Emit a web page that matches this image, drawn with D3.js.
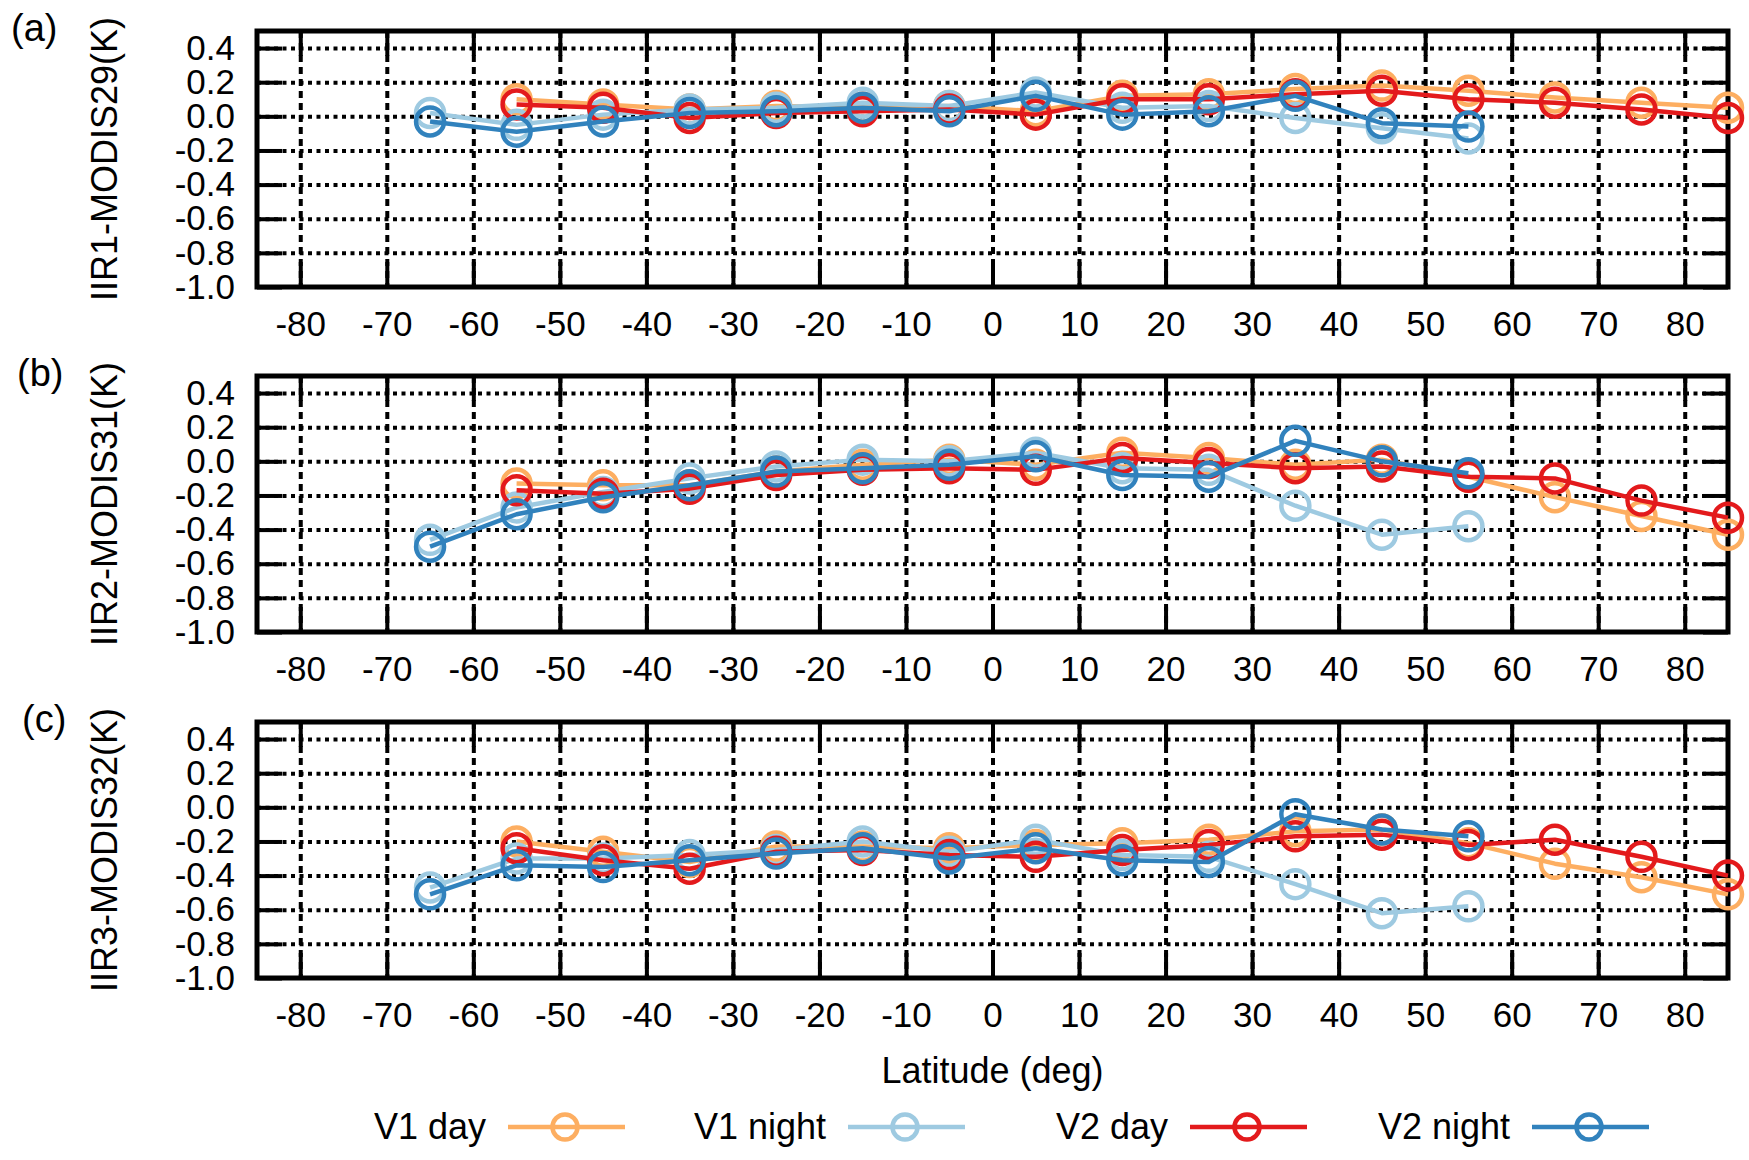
<!DOCTYPE html>
<html>
<head>
<meta charset="utf-8">
<title>IIR - MODIS differences vs latitude</title>
<script src="https://d3js.org/d3.v7.min.js"></script>
<style>
    body { margin: 0; background: #fff; }
    text { font-family: "Liberation Sans", Arial, sans-serif; fill: #000; }
    .grid-h line { stroke: #000; stroke-width: 1.6; stroke-dasharray: 4,4.5; }
    .grid-v line { stroke: #000; stroke-width: 1.6; stroke-dasharray: 7,5; }
    .tick line { stroke: #000; stroke-width: 4; }
    .ticks .tick text { font-size: 35px; }
    .border { fill: none; stroke: #000; stroke-width: 5; }
    .series { fill: none; stroke-width: 4.5; stroke-linejoin: round; }
</style>
</head>
<body>
<script>
// latitude bin centres
var latDay = [-55, -45, -35, -25, -15, -5, 5, 15, 25, 35, 45, 55, 65, 75, 85];
var latNight = [-65, -55, -45, -35, -25, -15, -5, 5, 15, 25, 35, 45, 55];

// (a) IIR1-MODIS29
var aV1Day = [0.10, 0.07, 0.04, 0.06, 0.05, 0.06, 0.03, 0.12, 0.13, 0.16, 0.18, 0.15, 0.11, 0.08, 0.05];
var aV1Night = [0.02, -0.05, 0.01, 0.04, 0.05, 0.08, 0.06, 0.14, 0.05, 0.06, -0.01, -0.07, -0.13];
var aV2Day = [0.07, 0.05, -0.01, 0.02, 0.03, 0.04, 0.01, 0.10, 0.10, 0.13, 0.15, 0.10, 0.08, 0.04, -0.01];
var aV2Night = [-0.03, -0.09, -0.03, 0.02, 0.03, 0.05, 0.03, 0.12, 0.01, 0.03, 0.12, -0.04, -0.06];

// (b) IIR2-MODIS31
var bV1Day = [-0.13, -0.14, -0.14, -0.06, -0.02, 0.01, -0.02, 0.05, 0.02, -0.02, 0.01, -0.09, -0.21, -0.32, -0.43];
var bV1Night = [-0.46, -0.27, -0.18, -0.10, -0.03, 0.01, 0.00, 0.05, -0.04, -0.05, -0.26, -0.43, -0.38];
var bV2Day = [-0.17, -0.19, -0.16, -0.08, -0.05, -0.04, -0.05, 0.02, -0.01, -0.04, -0.03, -0.09, -0.10, -0.23, -0.33];
var bV2Night = [-0.50, -0.31, -0.21, -0.14, -0.06, -0.04, -0.02, 0.03, -0.08, -0.09, 0.12, 0.00, -0.07];

// (c) IIR3-MODIS32
var cV1Day = [-0.20, -0.26, -0.32, -0.23, -0.23, -0.24, -0.22, -0.21, -0.19, -0.14, -0.13, -0.21, -0.33, -0.41, -0.51];
var cV1Night = [-0.47, -0.30, -0.30, -0.28, -0.25, -0.20, -0.26, -0.19, -0.28, -0.29, -0.45, -0.62, -0.58];
var cV2Day = [-0.24, -0.31, -0.36, -0.26, -0.25, -0.28, -0.29, -0.25, -0.22, -0.17, -0.16, -0.22, -0.19, -0.29, -0.40];
var cV2Night = [-0.51, -0.34, -0.35, -0.31, -0.27, -0.24, -0.30, -0.24, -0.31, -0.32, -0.04, -0.13, -0.17];

var panelLabels = ["(a)", "(b)", "(c)"];
var yTitles = ["IIR1-MODIS29(K)", "IIR2-MODIS31(K)", "IIR3-MODIS32(K)"];
var seriesNames = ["V1 day", "V1 night", "V2 day", "V2 night"];
var seriesColors = ["#fdae61", "#9ecae1", "#e31a1c", "#3182bd"];

var xTicks = [-80, -70, -60, -50, -40, -30, -20, -10, 0, 10, 20, 30, 40, 50, 60, 70, 80];
var xTickLabels = ["-80", "-70", "-60", "-50", "-40", "-30", "-20", "-10", "0", "10", "20", "30", "40", "50", "60", "70", "80"];
var yTicks = [0.4, 0.2, 0.0, -0.2, -0.4, -0.6, -0.8, -1.0];
var yTickLabels = ["0.4", "0.2", "0.0", "-0.2", "-0.4", "-0.6", "-0.8", "-1.0"];

var panelData = [
    [aV1Day, aV1Night, aV2Day, aV2Night],
    [bV1Day, bV1Night, bV2Day, bV2Night],
    [cV1Day, cV1Night, cV2Day, cV2Night]
];

var width = 1749, height = 1160;
var left = 257, right = 1728, panelH = 256;
var panelTops = [31, 376, 722];
var labelX = [11, 17, 22];

var svg = d3.select("body").append("svg")
    .attr("width", width)
    .attr("height", height);

var x = d3.scaleLinear().domain([-85, 85]).range([left, right]);

function noDomain(s) { s.select(".domain").remove(); }

panelData.forEach(function(series, i) {
    var top = panelTops[i], bottom = top + panelH;
    var y = d3.scaleLinear().domain([-1.0, 0.5]).range([bottom, top]);
    var g = svg.append("g");

    // grid
    g.append("g").attr("class", "grid-h")
        .attr("transform", "translate(" + left + ",0)")
        .call(d3.axisRight(y).tickValues(yTicks.slice(0, -1)).tickSize(right - left).tickFormat(""))
        .call(noDomain);
    g.append("g").attr("class", "grid-v")
        .attr("transform", "translate(0," + top + ")")
        .call(d3.axisBottom(x).tickValues(xTicks).tickSize(panelH).tickFormat(""))
        .call(noDomain);

    // ticks
    g.append("g").attr("class", "ticks")
        .attr("transform", "translate(" + left + ",0)")
        .call(d3.axisLeft(y).tickValues(yTicks).tickSize(-25).tickPadding(22)
            .tickFormat(function(d, k) { return yTickLabels[k]; }))
        .call(noDomain);
    g.append("g").attr("class", "ticks")
        .attr("transform", "translate(" + right + ",0)")
        .call(d3.axisRight(y).tickValues(yTicks).tickSize(-25).tickFormat(""))
        .call(noDomain);
    g.append("g").attr("class", "ticks")
        .attr("transform", "translate(0," + bottom + ")")
        .call(d3.axisBottom(x).tickValues(xTicks).tickSize(-25).tickPadding(24)
            .tickFormat(function(d, k) { return xTickLabels[k]; }))
        .call(noDomain);
    g.append("g").attr("class", "ticks")
        .attr("transform", "translate(0," + top + ")")
        .call(d3.axisTop(x).tickValues(xTicks).tickSize(-25).tickFormat(""))
        .call(noDomain);

    g.selectAll(".tick text").attr("fill", "#000").style("font-family", "Liberation Sans, Arial, sans-serif");

    g.append("rect").attr("class", "border")
        .attr("x", left).attr("y", top)
        .attr("width", right - left).attr("height", panelH);

    // series
    series.forEach(function(vals, s) {
        var lats = (s % 2 === 0) ? latDay : latNight;
        var pts = vals.map(function(v, k) { return [lats[k], v]; });
        var line = d3.line()
            .x(function(d) { return x(d[0]); })
            .y(function(d) { return y(d[1]); });
        g.append("path").attr("class", "series")
            .attr("d", line(pts))
            .attr("stroke", seriesColors[s]);
        g.selectAll(null).data(pts).enter().append("circle")
            .attr("cx", function(d) { return x(d[0]); })
            .attr("cy", function(d) { return y(d[1]); })
            .attr("r", 14)
            .attr("fill", "none")
            .attr("stroke", seriesColors[s])
            .attr("stroke-width", 4.5);
    });

    // labels
    svg.append("text")
        .attr("x", labelX[i]).attr("y", top + 10)
        .style("font-size", "38px")
        .text(panelLabels[i]);
    svg.append("text")
        .attr("transform", "translate(117," + (top + bottom) / 2 + ") rotate(-90)")
        .attr("text-anchor", "middle")
        .style("font-size", "36px")
        .text(yTitles[i]);
});

svg.append("text")
    .attr("x", (left + right) / 2).attr("y", 1083)
    .attr("text-anchor", "middle")
    .style("font-size", "36px")
    .text("Latitude (deg)");

// legend
var legendStarts = [508, 848, 1190, 1532];
var legendY = 1127;
seriesNames.forEach(function(name, s) {
    var x0 = legendStarts[s];
    svg.append("text")
        .attr("x", x0 - 22).attr("y", legendY + 12)
        .attr("text-anchor", "end")
        .style("font-size", "36px")
        .text(name);
    svg.append("line")
        .attr("x1", x0).attr("x2", x0 + 117)
        .attr("y1", legendY).attr("y2", legendY)
        .attr("stroke", seriesColors[s])
        .attr("stroke-width", 4.5);
    svg.append("circle")
        .attr("cx", x0 + 57).attr("cy", legendY)
        .attr("r", 12.5)
        .attr("fill", "none")
        .attr("stroke", seriesColors[s])
        .attr("stroke-width", 4.5);
});
</script>
</body>
</html>
